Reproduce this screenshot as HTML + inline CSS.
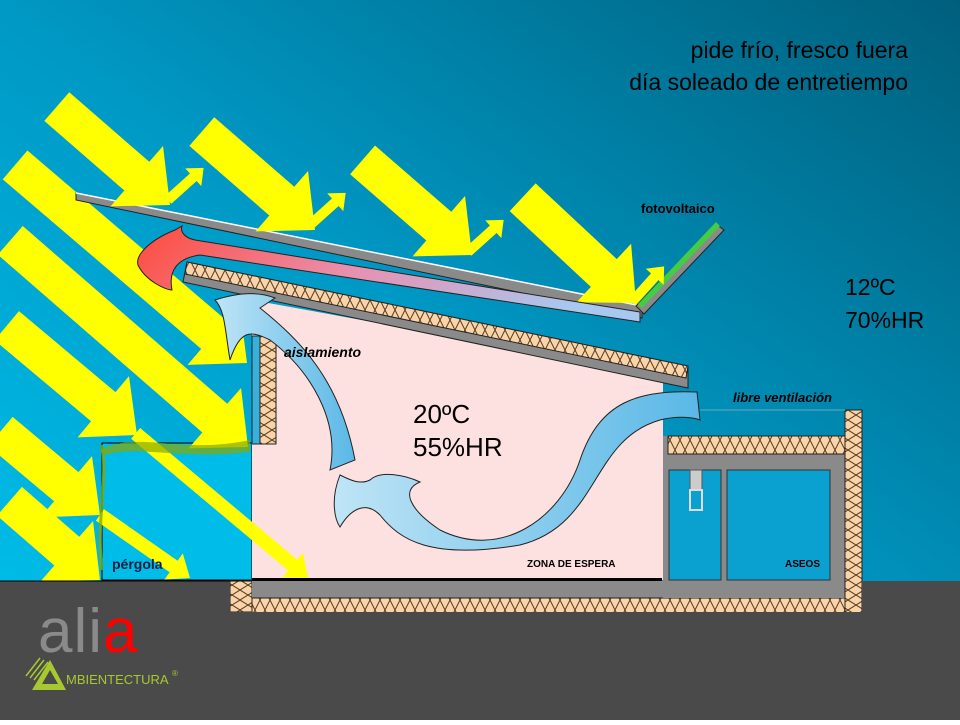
<!DOCTYPE html>
<html><head><meta charset="utf-8"><style>
html,body{margin:0;padding:0;}
body{width:960px;height:720px;overflow:hidden;font-family:"Liberation Sans",sans-serif;}
</style></head><body>
<svg width="960" height="720" viewBox="0 0 960 720" xmlns="http://www.w3.org/2000/svg">
<defs>
<linearGradient id="bg" x1="0" y1="1" x2="1" y2="0">
<stop offset="0" stop-color="#00c4f0"/><stop offset="0.5" stop-color="#0098c4"/><stop offset="1" stop-color="#005f7c"/>
</linearGradient>
<pattern id="ins" width="10" height="20" patternUnits="userSpaceOnUse">
<rect width="10" height="20" fill="#f8d4a8"/>
<path d="M0,0 L10,20 M10,0 L0,20" stroke="#5a3a20" stroke-width="1" fill="none"/>
</pattern>
<pattern id="insv" width="16" height="10" patternUnits="userSpaceOnUse">
<rect width="16" height="10" fill="#f8d4a8"/>
<path d="M0,0 L16,10 M0,10 L16,0" stroke="#5a3a20" stroke-width="1" fill="none"/>
</pattern>
<linearGradient id="red" x1="0" y1="0" x2="1" y2="0.2">
<stop offset="0" stop-color="#ff4a3a"/><stop offset="0.5" stop-color="#e890b0"/><stop offset="1" stop-color="#a8c8f0"/>
</linearGradient>
<linearGradient id="blu" x1="0" y1="0" x2="1" y2="0">
<stop offset="0" stop-color="#bfe4f6"/><stop offset="1" stop-color="#5ab8e6"/>
</linearGradient>
<path id="bounce" d="M0,-5 L34,-5 L34,-12 L48,0 L34,12 L34,5 L0,5 Z" fill="#ffff00"/>
</defs>
<rect width="960" height="720" fill="url(#bg)"/>
<rect x="102" y="443" width="150" height="137" fill="#00bce8" stroke="#000" stroke-width="1"/>

<polygon points="252,300 663,375 663,580 252,580" fill="#fde0e0"/>

<g fill="#ffff00">
<path transform="translate(247,363) rotate(40.5)" d="M-305,-19 L-44,-19 L-44,-40 L0,0 L-44,40 L-44,19 L-305,19 Z"/>
<path transform="translate(248,447) rotate(41)" d="M-315,-19 L-44,-19 L-44,-40 L0,0 L-44,40 L-44,19 L-315,19 Z"/>
<path transform="translate(137,435) rotate(40)" d="M-170,-19 L-44,-19 L-44,-40 L0,0 L-44,40 L-44,19 L-170,19 Z"/>
<path transform="translate(100,515) rotate(40)" d="M-130,-19 L-44,-19 L-44,-40 L0,0 L-44,40 L-44,19 L-130,19 Z"/>
<path transform="translate(100,580) rotate(41)" d="M-120,-19 L-44,-19 L-44,-40 L0,0 L-44,40 L-44,19 L-120,19 Z"/>
<path transform="translate(308,578) rotate(40)" d="M-225,-7 L-20,-7 L-20,-16 L0,0 L-20,16 L-20,7 L-225,7 Z"/>
<path transform="translate(190,578) rotate(35)" d="M-110,-7 L-20,-7 L-20,-16 L0,0 L-20,16 L-20,7 L-110,7 Z"/>
</g>

<path d="M100,450 C140,430 180,455 250,440 L250,452 C180,460 140,445 104,455 Z" fill="#8aa800" opacity="0.7"/>
<path d="M102,445 C108,480 96,520 102,570" stroke="#8aa800" stroke-width="3" fill="none" opacity="0.8"/>

<polygon points="76,193 642,306 642,318 76,200" fill="#8a8a8a" stroke="#222" stroke-width="1"/>
<line x1="76" y1="193" x2="642" y2="306" stroke="#fff" stroke-width="1.5"/>
<polygon points="636,306 716,224 724,230 644,314" fill="#8a8a8a" stroke="#222" stroke-width="1"/>
<polygon points="638,304 716,222 720,226 642,308" fill="#44cc44"/>

<g fill="#ffff00">
<path transform="translate(170,205) rotate(41)" d="M-150,-19 L-44,-19 L-44,-40 L0,0 L-44,40 L-44,19 L-150,19 Z"/>
<path transform="translate(315,230) rotate(41)" d="M-150,-19 L-44,-19 L-44,-40 L0,0 L-44,40 L-44,19 L-150,19 Z"/>
<path transform="translate(472,255) rotate(41)" d="M-145,-19 L-44,-19 L-44,-40 L0,0 L-44,40 L-44,19 L-145,19 Z"/>
<path transform="translate(636,303) rotate(43)" d="M-155,-19 L-44,-19 L-44,-40 L0,0 L-44,40 L-44,19 L-155,19 Z"/>
</g>
<g transform="translate(168,200) rotate(-42)"><use href="#bounce"/></g>
<g transform="translate(310,225) rotate(-42)"><use href="#bounce"/></g>
<g transform="translate(468,252) rotate(-42)"><use href="#bounce"/></g>
<g transform="translate(632,302) rotate(-48)"><use href="#bounce"/></g>

<path d="M175,230 C150,240 135,255 138,265 C145,280 165,290 172,290 C168,270 178,258 200,255 L640,322 L640,312 L195,240 C185,238 180,232 182,226 Z" fill="url(#red)" stroke="#222" stroke-width="1"/>

<polygon points="187,262 688,366 688,388 183,282" fill="#8a8a8a" stroke="#222" stroke-width="1"/>
<polygon points="187,262 688,366 686,378 185,274" fill="url(#ins)" stroke="#222" stroke-width="1"/>

<rect x="260" y="336" width="16" height="108" fill="url(#insv)" stroke="#222" stroke-width="1"/>
<rect x="252" y="336" width="8" height="108" fill="#3ab0d8" stroke="#223" stroke-width="1"/>

<rect x="230" y="580" width="22" height="32" fill="url(#insv)" stroke="#222"/>
<rect x="252" y="578" width="410" height="3" fill="#000"/>
<rect x="252" y="581" width="596" height="17" fill="#8a8a8a"/>
<rect x="252" y="598" width="610" height="15" fill="url(#ins)" stroke="#222"/>

<rect x="663" y="436" width="190" height="162" fill="#8a8a8a"/>
<rect x="668" y="436" width="178" height="18" fill="url(#ins)" stroke="#222"/>
<rect x="845" y="410" width="17" height="203" fill="url(#insv)" stroke="#222"/>
<rect x="669" y="470" width="52" height="110" fill="#0aa0d0" stroke="#333"/>
<rect x="727" y="470" width="103" height="110" fill="#0aa0d0" stroke="#333"/>
<rect x="690" y="470" width="12" height="20" fill="#ccc" stroke="#555"/>
<rect x="690" y="490" width="12" height="20" fill="none" stroke="#ddd" stroke-width="2"/>
<line x1="700" y1="410" x2="845" y2="410" stroke="#6ab" stroke-width="1"/>

<path d="M330,470 C340,420 310,370 270,340 C250,330 240,330 230,360 C225,330 225,310 215,300 C240,292 260,292 275,298 L260,308 C300,340 340,380 355,460 Z" fill="url(#blu)" stroke="#222" stroke-width="1"/>
<path d="M340,475 C330,500 335,520 340,527 C350,510 365,500 380,515 C400,540 430,560 520,545 C600,525 590,440 660,420 C680,415 695,418 700,420 L697,392 C640,390 600,400 580,460 C560,520 500,560 440,530 C410,510 400,490 420,482 C405,475 380,470 370,480 C360,485 350,480 340,475 Z" fill="url(#blu)" stroke="#222" stroke-width="1"/>

<rect x="0" y="581" width="230" height="139" fill="#4a4a4a"/>
<rect x="230" y="612" width="730" height="108" fill="#4a4a4a"/>
<rect x="862" y="581" width="98" height="31" fill="#4a4a4a"/>
<line x1="0" y1="581" x2="252" y2="581" stroke="#000" stroke-width="1"/>

<text x="908" y="58" font-size="23" text-anchor="end" fill="#000">pide frío, fresco fuera</text>
<text x="908" y="90" font-size="23" text-anchor="end" fill="#000">día soleado de entretiempo</text>
<text x="641" y="213" font-size="13" font-weight="bold" fill="#000">fotovoltaico</text>
<text x="845" y="295" font-size="23" fill="#000">12ºC</text>
<text x="845" y="328" font-size="23" fill="#000">70%HR</text>
<text x="284" y="357" font-size="14" font-weight="bold" font-style="italic" fill="#000">aislamiento</text>
<text x="413" y="423" font-size="26" fill="#000">20ºC</text>
<text x="413" y="456" font-size="26" fill="#000">55%HR</text>
<text x="733" y="402" font-size="13" font-weight="bold" font-style="italic" fill="#000">libre ventilación</text>
<text x="527" y="567" font-size="10" font-weight="bold" fill="#000">ZONA  DE  ESPERA</text>
<text x="785" y="567" font-size="10" font-weight="bold" fill="#000">ASEOS</text>
<text x="112" y="569" font-size="14" font-weight="bold" fill="#0a2040">pérgola</text>

<text x="38" y="652" font-size="62" fill="#8a8a8a" letter-spacing="1">ali<tspan fill="#ff0000">a</tspan></text>
<polygon points="32,690 50,660 66,690" fill="#a8c830"/>
<polygon points="42,684 50,670 58,684" fill="#4a4a4a"/>
<path d="M26,676 L40,658 M30,678 L44,660 M34,680 L48,662" stroke="#a8c830" stroke-width="1.5"/>
<text x="66" y="684" font-size="13" fill="#a8c830">MBIENTECTURA</text>
<text x="172" y="676" font-size="8" fill="#a8c830">®</text>
</svg>
</body></html>
